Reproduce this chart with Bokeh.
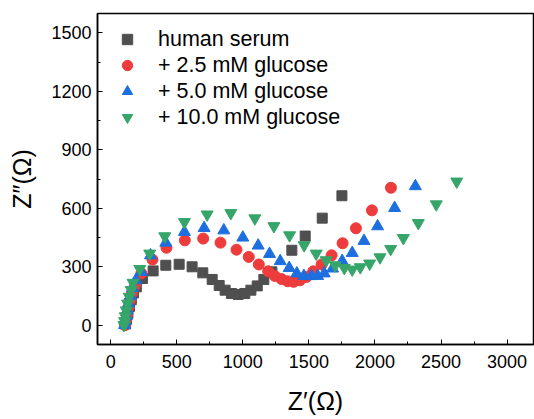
from bokeh.plotting import figure
from bokeh.models import SingleIntervalTicker, Range1d, Legend, LegendItem
from bokeh.embed import file_html
from bokeh.resources import INLINE

# human serum
x_serum = [112, 120, 130, 142, 156, 172, 194, 240, 321, 417, 518, 616, 697, 768, 821, 866,
           914, 965, 1015, 1061, 1109, 1159, 1220, 1371, 1472, 1601, 1750]
y_serum = [5, 30, 60, 95, 130, 165, 196, 239, 278, 307, 312, 299, 268, 234, 203, 179,
           162, 157, 162, 179, 201, 234, 273, 384, 457, 549, 664]
# + 2.5 mM glucose
x_25 = [108, 115, 124, 134, 146, 162, 185, 232, 316, 422, 561, 700, 831, 952, 1045, 1121,
        1192, 1242, 1293, 1338, 1384, 1432, 1482, 1533, 1596, 1672, 1755, 1856, 1977, 2121]
y_25 = [0, 25, 55, 90, 125, 165, 205, 265, 336, 397, 435, 444, 423, 387, 350, 311,
        276, 252, 236, 225, 222, 230, 247, 276, 311, 358, 420, 497, 589, 705]
# + 5.0 mM glucose
x_50 = [105, 110, 118, 126, 136, 148, 165, 190, 232, 301, 417, 558, 707, 856, 1000, 1116,
        1202, 1283, 1351, 1409, 1462, 1520, 1566, 1616, 1679, 1752, 1828, 1917, 2020, 2149, 2306]
y_50 = [0, 20, 45, 75, 110, 150, 190, 230, 273, 358, 423, 478, 498, 486, 449, 408,
        365, 328, 293, 265, 252, 251, 252, 265, 290, 329, 370, 432, 507, 601, 713]
# + 10.0 mM glucose
x_100 = [100, 105, 110, 118, 128, 140, 155, 169, 220, 295, 409, 558, 730, 909, 1091, 1235,
         1354, 1464, 1555, 1631, 1699, 1768, 1828, 1889, 1960, 2038, 2119, 2215, 2328, 2464, 2619]
y_100 = [0, 20, 45, 75, 110, 145, 180, 217, 288, 367, 456, 529, 568, 575, 548, 508,
         461, 410, 367, 333, 307, 293, 285, 297, 316, 348, 391, 447, 524, 620, 737]

labels = ["human serum", "+ 2.5 mM glucose", "+ 5.0 mM glucose", "+ 10.0 mM glucose"]
colors = ["#4f4f4f", "#ee3b3b", "#1d6fe0", "#36a569"]

p = figure(width=534, height=418, output_backend="svg", toolbar_location=None,
           x_range=Range1d(-100, 3200), y_range=Range1d(-100, 1600),
           min_border_left=97, min_border_right=1, min_border_top=13, min_border_bottom=74)
p.background_fill_color = "white"
p.border_fill_color = "white"
p.outline_line_color = "black"
p.outline_line_width = 1.5
p.xgrid.visible = False
p.ygrid.visible = False

r1 = p.scatter(x_serum, y_serum, marker="square", size=10, color=colors[0])
r2 = p.scatter(x_25, y_25, marker="circle", size=11, color=colors[1])
r3 = p.scatter(x_50, y_50, marker="triangle", size=12, color=colors[2])
r4 = p.scatter(x_100, y_100, marker="inverted_triangle", size=12, color=colors[3])

p.xaxis.ticker = SingleIntervalTicker(interval=500, num_minor_ticks=2)
p.yaxis.ticker = SingleIntervalTicker(interval=300, num_minor_ticks=2)
for ax in (p.xaxis, p.yaxis):
    ax.axis_line_color = "black"
    ax.axis_line_width = 1.5
    ax.major_tick_in = 5
    ax.major_tick_out = 0
    ax.minor_tick_in = 3
    ax.minor_tick_out = 0
    ax.major_tick_line_color = "black"
    ax.minor_tick_line_color = "black"
    ax.major_label_text_font = "Liberation Sans"
    ax.major_label_text_font_size = "18px"
    ax.major_label_text_color = "black"
    ax.axis_label_text_font = "Liberation Sans"
    ax.axis_label_text_font_size = "25px"
    ax.axis_label_text_font_style = "normal"
    ax.axis_label_text_color = "black"

p.xaxis.axis_label = "Z\u2032(\u03a9)"
p.yaxis.axis_label = "Z\u2033(\u03a9)"
p.xaxis.major_label_standoff = 10
p.yaxis.major_label_standoff = 6
p.xaxis.axis_label_standoff = 16
p.yaxis.axis_label_standoff = 12

legend = Legend(items=[LegendItem(label=labels[i], renderers=[r]) for i, r in enumerate([r1, r2, r3, r4])],
                location="top_left")
legend.border_line_color = None
legend.background_fill_alpha = 0
legend.margin = 13
legend.padding = 5
legend.glyph_width = 34
legend.glyph_height = 26
legend.label_height = 26
legend.spacing = 0
legend.label_standoff = 14
legend.label_text_font = "Liberation Sans"
legend.label_text_font_size = "21.5px"
legend.label_text_color = "black"
p.add_layout(legend)

open("out.html", "w").write(file_html(p, INLINE))
